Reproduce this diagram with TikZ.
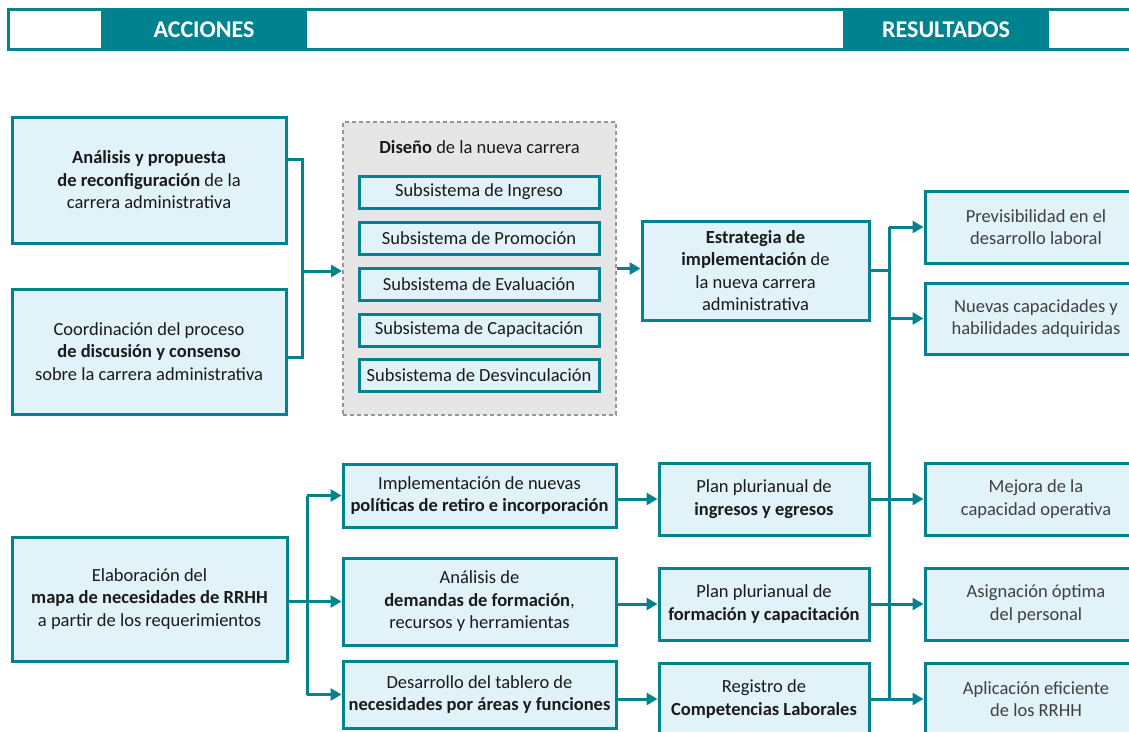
\documentclass[tikz,border=0pt]{standalone}
\usepackage{fontspec}
\setmainfont{Carlito}
\usetikzlibrary{arrows.meta}
\definecolor{teal1}{RGB}{0,131,143}
\definecolor{boxfill}{RGB}{225,242,249}
\definecolor{grayfill}{RGB}{230,230,230}
\definecolor{grayline}{RGB}{150,150,150}
\definecolor{txt}{RGB}{26,26,26}
\definecolor{txtres}{RGB}{64,64,64}
\tikzset{
  box/.style={draw=teal1, line width=3pt, fill=boxfill, align=center, text=txt,
    inner sep=0pt, font=\fontsize{18.5}{22.5}\selectfont},
  resbox/.style={box, text=txtres},
  subbox/.style={box, minimum width=240pt, minimum height=32pt},
  hdr/.style={fill=teal1, text=white, inner sep=0pt, minimum width=206pt, minimum height=40pt,
    font=\fontsize{24}{27}\selectfont\bfseries},
  conn/.style={draw=teal1, line width=3pt},
  arr/.style={conn, -{Triangle[length=11pt,width=12pt]}},
}
\begin{document}
\begin{tikzpicture}[x=1pt,y=-1pt]
\useasboundingbox (0,0) rectangle (1129,731);
% header
\draw[draw=teal1, line width=3pt] (8,9) rectangle (1145,49);
\node[hdr] (acc) at (204,30) {ACCIONES};
\node[hdr] (res) at (946,30) {RESULTADOS};
% top-left boxes
\node[box, minimum width=274pt, minimum height=126pt] (A1) at (149,180)
  {\textbf{Análisis y propuesta}\\\textbf{de reconfiguración} de la\\carrera administrativa};
\node[box, minimum width=274pt, minimum height=125pt] (A2) at (149,351.5)
  {Coordinación del proceso\\\textbf{de discusión y consenso}\\sobre la carrera administrativa};
% dashed group
\node[draw=grayline, fill=grayfill, dashed, dash pattern=on 4pt off 3pt, line width=2pt,
  minimum width=273pt, minimum height=293pt, inner sep=0pt] (D) at (479.5,268.5) {};
\node[text=txt, font=\fontsize{18.5}{22.5}\selectfont, inner sep=0pt] (Dt) at (479.5,147) {\textbf{Diseño} de la nueva carrera};
\node[subbox] (S1) at (479,192) {Subsistema de Ingreso};
\node[subbox] (S2) at (479,238) {Subsistema de Promoción};
\node[subbox] (S3) at (479,284) {Subsistema de Evaluación};
\node[subbox] (S4) at (479,330) {Subsistema de Capacitación};
\node[subbox] (S5) at (479,375.5) {Subsistema de Desvinculación};
% strategy
\node[box, minimum width=227pt, minimum height=99pt] (E) at (755.5,270.5)
  {\textbf{Estrategia de}\\\textbf{implementación} de\\la nueva carrera\\administrativa};
% results
\node[resbox, minimum width=222pt, minimum height=72pt] (R1) at (1036,227) {Previsibilidad en el\\desarrollo laboral};
\node[resbox, minimum width=222pt, minimum height=71pt] (R2) at (1036,318.5) {Nuevas capacidades y\\habilidades adquiridas};
\node[resbox, minimum width=222pt, minimum height=72pt] (R3) at (1036,499) {Mejora de la\\capacidad operativa};
\node[resbox, minimum width=222pt, minimum height=72pt] (R4) at (1036,604) {Asignación óptima\\del personal};
\node[resbox, minimum width=222pt, minimum height=72pt] (R5) at (1036,699) {Aplicación eficiente\\de los RRHH};
% bottom-left
\node[box, minimum width=275pt, minimum height=124pt] (B) at (149.5,599)
  {Elaboración del\\\textbf{mapa de necesidades de RRHH}\\a partir de los requerimientos};
\node[box, minimum width=273pt, minimum height=63pt] (C1) at (479.5,495.5)
  {Implementación de nuevas\\\textbf{políticas de retiro e incorporación}};
\node[box, minimum width=273pt, minimum height=87pt] (C2) at (479.5,601.5)
  {Análisis de\\\textbf{demandas de formación},\\recursos y herramientas};
\node[box, minimum width=273pt, minimum height=67pt] (C3) at (479.5,694.5)
  {Desarrollo del tablero de\\\textbf{necesidades por áreas y funciones}};
\node[box, minimum width=210pt, minimum height=72pt] (P1) at (764,499)
  {Plan plurianual de\\\textbf{ingresos y egresos}};
\node[box, minimum width=210pt, minimum height=72pt] (P2) at (764,604)
  {Plan plurianual de\\\textbf{formación y capacitación}};
\node[box, minimum width=210pt, minimum height=72pt] (P3) at (764,699)
  {Registro de\\\textbf{Competencias Laborales}};
% junction coordinates
\coordinate (j1) at (302,271);
\coordinate (vx) at (889,267);
\coordinate (vb) at (307,601);
% connectors top-left
\draw[conn] ([yshift=21pt]A1.east) -| (j1);
\draw[conn] ([yshift=-5.5pt]A2.east) -| (j1);
\draw[arr] (j1) -- (j1 -| D.west);
\draw[arr] (D.east) -- (D.east -| E.west);
% results connectors
\draw[conn] (E.east) -- (E.east -| vx);
\draw[conn] (vx |- R1.west) -- (vx |- P3.east);
\draw[arr] (vx |- R1.west) -- (R1.west);
\draw[arr] (vx |- R2.west) -- (R2.west);
\draw[arr] (P1.east) -- (R3.west);
\draw[arr] (P2.east) -- (R4.west);
\draw[arr] (P3.east) -- (R5.west);
% bottom-left connectors
\draw[conn] (B.east |- vb) -- (vb);
\draw[conn] (vb |- C1.west) -- (vb |- C3.west);
\draw[arr] (vb |- C1.west) -- (C1.west);
\draw[arr] (vb |- C2.west) -- (C2.west);
\draw[arr] (vb |- C3.west) -- (C3.west);
\draw[arr] (C1.east |- P1.west) -- (P1.west);
\draw[arr] (C2.east |- P2.west) -- (P2.west);
\draw[arr] (C3.east |- P3.west) -- (P3.west);
\end{tikzpicture}
\end{document}
